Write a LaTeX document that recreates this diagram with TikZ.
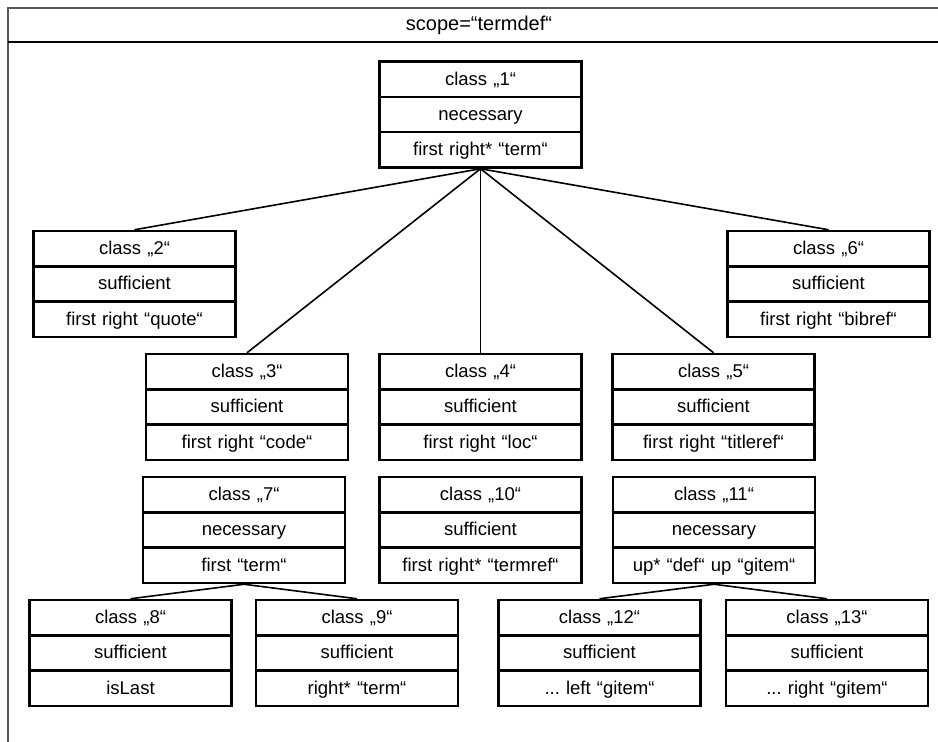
\documentclass[tikz,border=0pt]{standalone}
\usepackage{fontspec}
\setmainfont{Liberation Sans}
\usetikzlibrary{shapes.multipart}
\frenchspacing

\newcommand{\boxfont}{\fontsize{18.5}{22}\selectfont}
\newcommand{\headfont}{\fontsize{20}{24}\selectfont}
\newcommand{\rowstrut}{\rule[-10.5pt]{0pt}{32.7pt}}
\newcommand{\cls}[3]{\rowstrut class „#1“\nodepart{two}\rowstrut #2\nodepart{three}\rowstrut #3}

\tikzset{
  classbox/.style={rectangle split, rectangle split parts=3, draw, line width=2.6pt,
    text width=202pt, align=center, inner xsep=0pt, inner ysep=0pt, font=\boxfont},
  link/.style={line width=1.6pt},
  frame/.style={line width=1.2pt, black!65}
}

\begin{document}
\begin{tikzpicture}[x=1pt,y=-1pt]
\useasboundingbox (0,0) rectangle (938,742);
% scope frame
\draw[frame] (938,8) -- (8,8) -- (8,742);
\draw[line width=2.6pt] (8,42) -- (938,42);
\node[font=\headfont] (scope) at (479,25) {scope=“termdef“};

% classes
\node[classbox] (c1) at (480.5,114.5) {\cls{1}{necessary}{first right* “term“}};
\node[classbox] (c2) at (134.5,284) {\cls{2}{sufficient}{first right “quote“}};
\node[classbox] (c6) at (828.5,284) {\cls{6}{sufficient}{first right “bibref“}};
\node[classbox] (c3) at (247,407) {\cls{3}{sufficient}{first right “code“}};
\node[classbox] (c4) at (480.5,407) {\cls{4}{sufficient}{first right “loc“}};
\node[classbox] (c5) at (713.5,407) {\cls{5}{sufficient}{first right “titleref“}};
\node[classbox] (c7) at (244,530) {\cls{7}{necessary}{first “term“}};
\node[classbox] (c10) at (480.5,530) {\cls{10}{sufficient}{first right* “termref“}};
\node[classbox] (c11) at (714,530) {\cls{11}{necessary}{up* “def“ up “gitem“}};
\node[classbox] (c8) at (130.5,653) {\cls{8}{sufficient}{isLast}};
\node[classbox] (c9) at (357,653) {\cls{9}{sufficient}{right* “term“}};
\node[classbox] (c12) at (599.5,653) {\cls{12}{sufficient}{... left “gitem“}};
\node[classbox] (c13) at (827,653) {\cls{13}{sufficient}{... right “gitem“}};

% links
\foreach \t in {c2,c3,c4,c5,c6}
  \draw[link] (c1.south) -- (\t.north);
\foreach \t in {c8,c9}
  \draw[link] (c7.south) -- (\t.north);
\foreach \t in {c12,c13}
  \draw[link] (c11.south) -- (\t.north);
\end{tikzpicture}
\end{document}
